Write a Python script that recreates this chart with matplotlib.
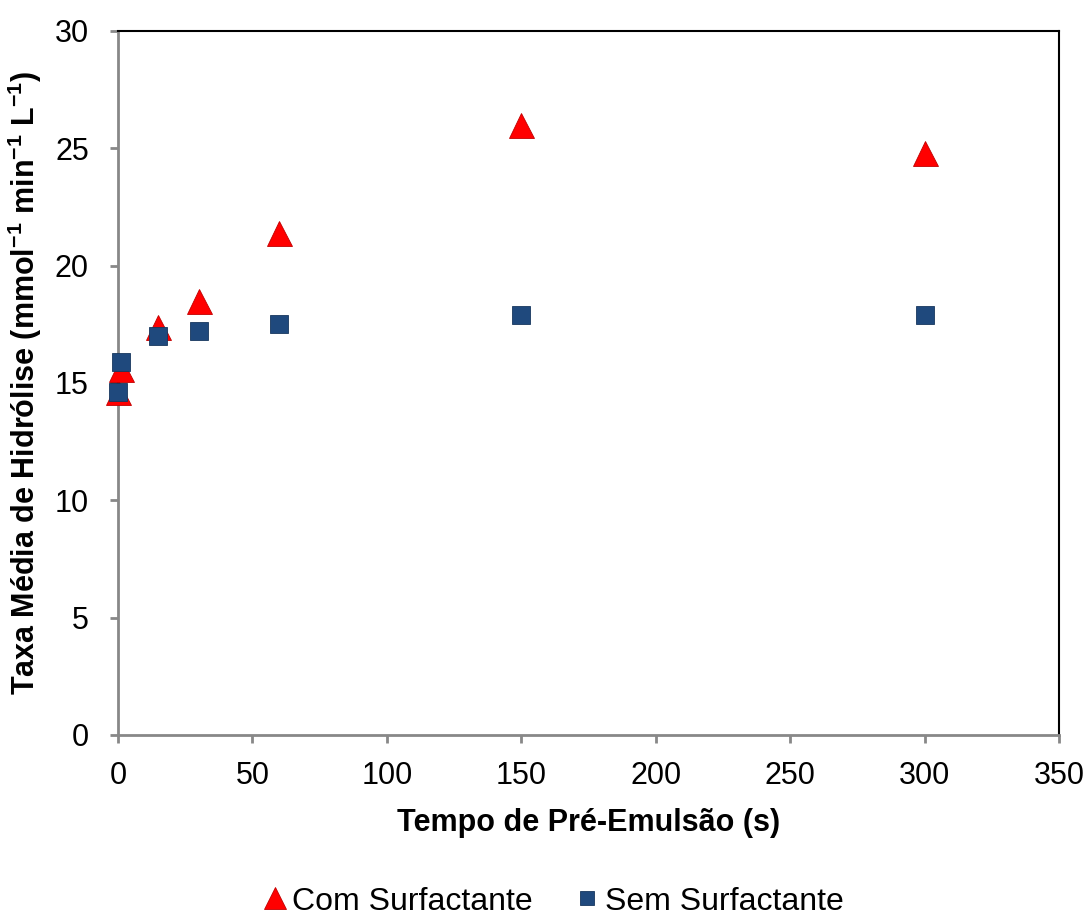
import matplotlib.pyplot as plt

plt.rcParams['font.family'] = ['Liberation Sans', 'DejaVu Sans']
plt.rcParams['mathtext.default'] = 'regular'

# tempo de pre-emulsao (s)
tempo = [0, 1, 15, 30, 60, 150, 300]
com_surf = [14.6, 15.6, 17.4, 18.5, 21.4, 26.0, 24.8]
sem_surf = [14.6, 15.9, 17.0, 17.2, 17.5, 17.9, 17.9]

fig = plt.figure(figsize=(10.89, 9.17), dpi=100)
ax = fig.add_axes([0.1084, 0.1985, 0.8641, 0.7677])

ax.plot(tempo, com_surf, linestyle='none', marker='^', markersize=18,
        color='#ff0000', markeredgecolor='#c00000', markeredgewidth=0.6,
        label='Com Surfactante', clip_on=False, zorder=3)
ax.plot(tempo, sem_surf, linestyle='none', marker='s', markersize=12.5,
        color='#1f497d', markeredgecolor='#17375e', markeredgewidth=0.6,
        label='Sem Surfactante', clip_on=False, zorder=4)

ax.set_xlim(0, 350)
ax.set_ylim(0, 30)
ax.set_xticks(range(0, 351, 50))
ax.set_yticks(range(0, 31, 5))

for s in ['left', 'bottom']:
    ax.spines[s].set_color('#888888')
    ax.spines[s].set_linewidth(2)
for s in ['top', 'right']:
    ax.spines[s].set_color('black')
    ax.spines[s].set_linewidth(1.5)
ax.tick_params(direction='out', length=6, width=2, color='#888888',
               labelsize=22)
ax.tick_params(axis='x', pad=13)
ax.tick_params(axis='y', pad=15)

ax.set_xlabel('Tempo de Pré-Emulsão (s)', fontsize=22, fontweight='bold',
              labelpad=12)
ax.set_ylabel('Taxa Média de Hidrólise (mmol$^{-1}$ min$^{-1}$ L$^{-1}$)',
              fontsize=22, fontweight='bold', labelpad=8)

fig.legend(loc='lower center', bbox_to_anchor=(0.506, -0.031), ncol=2,
           frameon=False, fontsize=23, handletextpad=0.05, columnspacing=1.2,
           markerscale=0.85, handlelength=1.0)

fig.savefig('out.png', dpi=100)
